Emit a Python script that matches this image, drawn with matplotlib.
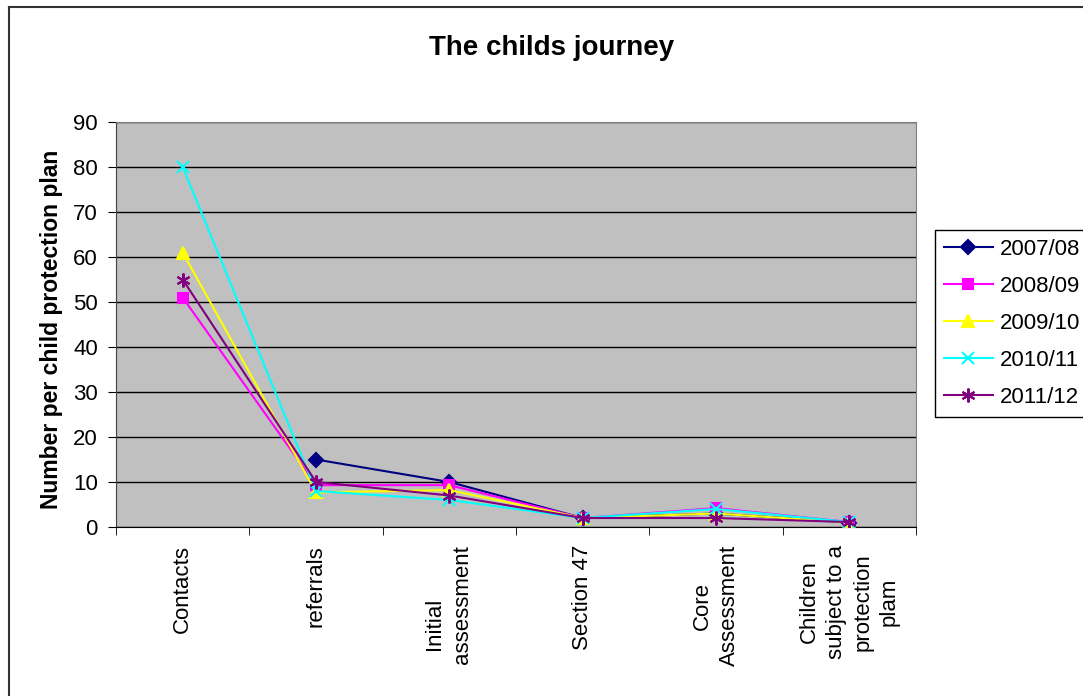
import numpy as np
import matplotlib
matplotlib.use("Agg")
import matplotlib.pyplot as plt
from matplotlib.lines import Line2D

plt.rcParams["font.family"] = ["Liberation Sans", "DejaVu Sans"]

categories = ["Contacts", "referrals", "Initial       \nassessment", "Section 47",
              "Core\nAssessment", "Children\nsubject to a\nprotection\nplam"]
years = ["2007/08", "2008/09", "2009/10", "2010/11", "2011/12"]

v_2007 = [np.nan, 15, 10, 2, 3, 1]
v_2008 = [51, 9.3, 9.3, 2, 4.2, 1.1]
v_2009 = [61, 7.7, 8.2, 2, 3, 1]
v_2010 = [80, 8, 6, 2, 4, 1.1]
v_2011 = [55, 10, 7, 2, 2, 1.1]

series = [v_2007, v_2008, v_2009, v_2010, v_2011]
colors = ["#000080", "#FF00FF", "#FFFF00", "#00FFFF", "#800080"]
markers = ["D", "s", "^", "x", (6, 2, 0)]
msizes = [7, 7, 8, 9, 10]

fig = plt.figure(figsize=(10.83, 6.96), dpi=100)
ax = fig.add_axes([116 / 1083, 1 - 527 / 696, 800 / 1083, 405 / 696])
ax.set_facecolor("#C0C0C0")

x = np.arange(len(categories))
for vals, name, c, m, ms in zip(series, years, colors, markers, msizes):
    ax.plot(x, vals, color=c, marker=m, markersize=ms, markeredgecolor=c,
            markeredgewidth=1.5, linewidth=1.5, label=name, zorder=3)

ax.set_xlim(-0.5, 5.5)
ax.set_ylim(0, 90)
ax.set_yticks(range(0, 91, 10))
ax.set_xticks(x)
ax.set_xticks(np.arange(-0.5, 5.6, 1), minor=True)
ax.set_xticklabels(categories, rotation=90, fontsize=16, ha="center", va="top",
                   multialignment="center", linespacing=1.35)
ax.tick_params(axis="x", which="major", length=0, pad=13)
ax.tick_params(axis="x", which="minor", length=6, direction="out")
ax.tick_params(axis="y", labelsize=16, length=6, pad=7)
ax.grid(axis="y", color="black", linewidth=1)
ax.set_axisbelow(True)
for side in ["top", "right"]:
    ax.spines[side].set_color("#808080")
ax.spines["left"].set_color("#404040")
ax.spines["bottom"].set_color("black")

ax.set_ylabel("Number per child protection plan", fontsize=16.5, fontweight="bold")
ax.yaxis.label.set_va("center")
ax.yaxis.set_label_coords((52 - 116) / 800, (527 - 329) / 405)

fig.text(552 / 1083, 1 - 48 / 696, "The childs journey", fontsize=20,
         fontweight="bold", ha="center", va="center")

leg = ax.legend(loc="upper left", bbox_to_anchor=(935 / 1083, 1 - 230 / 696),
                bbox_transform=fig.transFigure, fontsize=16, frameon=True,
                fancybox=False, edgecolor="black", handlelength=2.2,
                handletextpad=0.3, borderpad=0.4, borderaxespad=0,
                labelspacing=0.72, framealpha=1)
leg.get_frame().set_linewidth(1)

# outer chart border (only left and top edges are visible in the crop)
bx, by = 8.5 / 1083, 1 - 6.5 / 696
fig.add_artist(Line2D([bx, bx], [by, 0], transform=fig.transFigure, color="#333333", lw=1.5))
fig.add_artist(Line2D([bx, 1], [by, by], transform=fig.transFigure, color="#333333", lw=1.5))

fig.savefig("out.png", dpi=100)
